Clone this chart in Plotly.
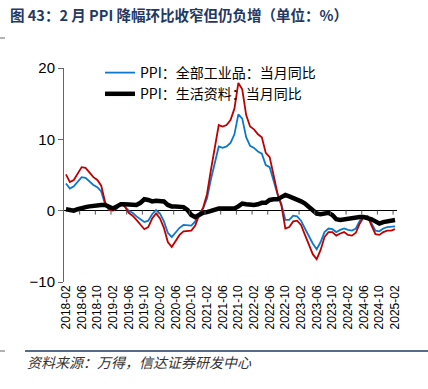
import plotly.graph_objects as go
import pandas as pd

months = [p.strftime("%Y-%m") for p in pd.period_range("2018-02", "2025-02", freq="M")]

ppi_all = [3.8, 3.1, 3.4, 4.1, 4.7, 4.6, 4.1, 3.6, 3.3, 2.7, 0.9,
           0.1, 0.1, 0.4, 0.9, 0.6, 0.0, -0.3, -0.8, -1.2, -1.6, -1.4, -0.5,
           0.1, -0.4, -1.5, -3.1, -3.7, -3.0, -2.4, -2.0, -2.1, -2.1, -1.5, -0.4,
           0.3, 1.7, 4.4, 6.8, 9.0, 8.8, 9.0, 9.5, 10.7, 13.5, 12.9, 10.3,
           9.1, 8.8, 8.3, 8.0, 6.4, 6.1, 4.2, 2.3, 0.9, -1.3, -1.3, -0.7,
           -0.8, -1.4, -2.5, -3.6, -4.6, -5.4, -4.4, -3.0, -2.5, -2.6, -3.0, -2.7,
           -2.5, -2.7, -2.8, -2.5, -1.4, -0.8, -0.8, -1.8, -2.8, -2.9, -2.5, -2.3,
           -2.3, -2.2]

ppi_prod = [5.1, 4.0, 4.3, 5.3, 6.1, 6.0, 5.3, 4.7, 4.3, 3.5, 1.2,
            0.1, 0.0, 0.3, 1.0, 0.6, -0.3, -0.7, -1.3, -1.9, -2.6, -2.3, -1.1,
            -0.4, -1.1, -2.4, -4.4, -5.1, -4.2, -3.4, -2.9, -2.9, -2.8, -2.1, -0.6,
            0.4, 2.3, 5.7, 9.1, 12.0, 11.8, 12.0, 12.7, 14.3, 17.9, 17.0, 13.4,
            11.8, 11.4, 10.7, 10.3, 8.1, 7.5, 5.0, 2.4, 0.7, -2.5, -2.3, -1.5,
            -1.4, -2.0, -3.4, -4.7, -6.1, -6.8, -5.5, -3.7, -3.0, -3.0, -3.5, -3.2,
            -3.0, -3.4, -3.5, -3.1, -1.8, -0.9, -0.8, -2.1, -3.3, -3.4, -3.0, -2.8,
            -2.8, -2.6]

ppi_cons = [0.2, 0.1, 0.0, 0.2, 0.4, 0.5, 0.6, 0.7, 0.8, 0.8, 0.8,
            0.5, 0.3, 0.6, 0.9, 0.9, 0.9, 0.8, 0.8, 1.1, 1.6, 1.5, 1.3,
            1.4, 1.3, 1.3, 0.8, 0.6, 0.6, 0.6, 0.5, 0.1, -0.6, -0.9, -0.6,
            -0.3, -0.2, 0.0, 0.1, 0.3, 0.3, 0.3, 0.3, 0.3, 0.6, 1.0, 0.9,
            0.8, 0.8, 0.9, 1.1, 1.1, 1.5, 1.6, 1.6, 1.9, 2.2, 2.0, 1.8,
            1.6, 1.3, 1.0, 0.5, 0.2, -0.4, -0.5, -0.4, -0.3, -0.6, -1.2, -1.3,
            -1.2, -1.1, -1.0, -1.0, -0.9, -0.9, -1.0, -1.2, -1.5, -1.8, -1.6, -1.5,
            -1.4, -1.3]

tick_labels = ["2018-02", "2018-06", "2018-10", "2019-02", "2019-06", "2019-10",
               "2020-02", "2020-06", "2020-10", "2021-02", "2021-06", "2021-10",
               "2022-02", "2022-06", "2022-10", "2023-02", "2023-06", "2023-10",
               "2024-02", "2024-06", "2024-10", "2025-02"]

W, H = 428, 389
L, R, T, B = 64, 397, 68, 282

def px(x):
    return (x - L) / (R - L)

def py(y):
    return (B - y) / (B - T)

FONT = "Liberation Sans, Arial, Noto Sans CJK SC, sans-serif"

fig = go.Figure()
fig.add_trace(go.Scatter(x=months, y=ppi_all, mode="lines", name="PPI：全部工业品：当月同比",
                         line=dict(color="#0A78CC", width=1.8)))
fig.add_trace(go.Scatter(x=months, y=ppi_prod, mode="lines", name="PPI：生产资料：当月同比",
                         line=dict(color="#C00000", width=1.8), showlegend=False))
fig.add_trace(go.Scatter(x=months, y=ppi_cons, mode="lines", name="PPI：生活资料：当月同比",
                         line=dict(color="#000000", width=4.5)))

shapes = []
for k in range(1, 22):
    xb = -0.5 + 4 * k
    shapes.append(dict(type="line", xref="x", yref="y", x0=xb, x1=xb, y0=0, y1=-0.55,
                       line=dict(color="#555555", width=1)))
shapes.append(dict(type="line", xref="paper", yref="paper", x0=px(25), x1=px(428),
                   y0=py(351), y1=py(351), line=dict(color="#1F3864", width=1.5)))
shapes.append(dict(type="line", xref="paper", yref="paper", x0=px(0), x1=px(5),
                   y0=py(351), y1=py(351), line=dict(color="#666666", width=1)))
shapes.append(dict(type="line", xref="paper", yref="paper", x0=px(0), x1=px(5),
                   y0=py(38), y1=py(38), line=dict(color="#666666", width=1)))

fig.update_layout(
    width=W, height=H,
    margin=dict(l=L, r=W - R, t=T, b=H - B, pad=0),
    paper_bgcolor="white", plot_bgcolor="white",
    font=dict(family=FONT, size=12, color="#000000"),
    showlegend=True,
    legend=dict(x=px(100), y=py(57), xanchor="left", yanchor="top",
                bgcolor="rgba(0,0,0,0)", borderwidth=0,
                font=dict(family="Noto Sans CJK SC, sans-serif", size=14, color="#000000"),
                tracegroupgap=0),
    shapes=shapes,
    annotations=[
        dict(text="<b>图 43：2 月 PPI 降幅环比收窄但仍负增（单位：%）</b>", xref="paper", yref="paper",
             x=px(8), y=py(14), xanchor="left", yanchor="middle", showarrow=False,
             font=dict(family="Noto Sans CJK SC, sans-serif", size=14.5, color="#1F3864")),
        dict(text="<i>资料来源：万得，信达证券研发中心</i>", xref="paper", yref="paper",
             x=px(25), y=py(362), xanchor="left", yanchor="middle", showarrow=False,
             font=dict(family="Noto Sans CJK SC, sans-serif", size=14, color="#333333")),
    ],
)

fig.update_xaxes(type="category", range=[-0.5, 84.5], tickmode="array",
                 tickvals=tick_labels, ticktext=tick_labels, tickangle=-90,
                 tickfont=dict(family=FONT, size=12, color="#000000"),
                 showgrid=False, showline=False, ticks="", zeroline=False)
fig.update_yaxes(range=[-10, 20], tickvals=[-10, 0, 10, 20],
                 tickfont=dict(family=FONT, size=15, color="#000000"),
                 showgrid=False, showline=True, linecolor="#666666", linewidth=1,
                 ticks="outside", ticklen=5, tickcolor="#666666",
                 zeroline=True, zerolinecolor="#000000", zerolinewidth=1)

fig.write_html("out.html", config={"displayModeBar": False},
               post_script="document.body.style.margin='0';document.body.style.padding='0';")
